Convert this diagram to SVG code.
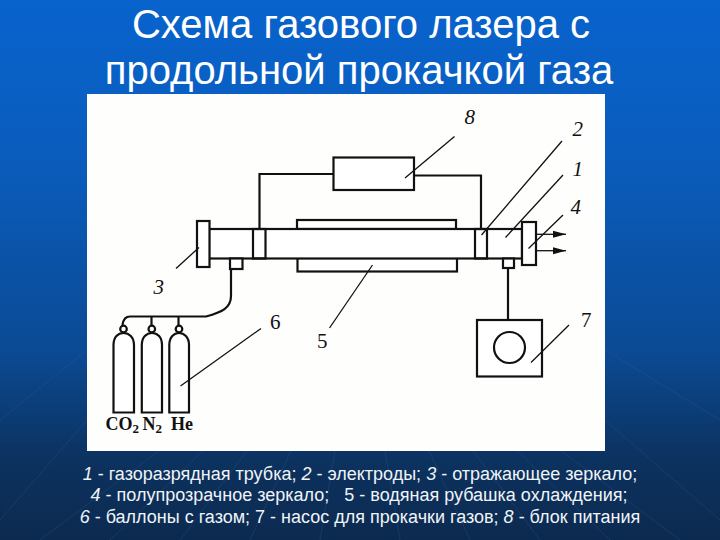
<svg xmlns="http://www.w3.org/2000/svg" width="720" height="540" viewBox="0 0 720 540">
<style>
.t{font-family:"Liberation Sans",Arial,sans-serif;fill:#fff}
.title{font-size:40px;text-anchor:middle}
.cap{font-size:18px;text-anchor:middle;white-space:pre;fill:#f0f4f8}
.cap tspan{font-style:italic}
.s{fill:#fff;stroke:#111;stroke-width:2.2}
.w{fill:none;stroke:#111;stroke-width:2.2}
.l{fill:none;stroke:#111;stroke-width:1.3}
.n{font-family:"Liberation Serif","Times New Roman",serif;font-size:21px;font-style:italic;fill:#111}
.u{font-style:normal}
.g{font-family:"Liberation Serif","Times New Roman",serif;font-size:18px;font-weight:bold;fill:#111}
.g2{font-size:13px}
.ray{stroke:#3f6fa8;stroke-width:1;opacity:.22;fill:none}
</style>
<defs>
<linearGradient id="bg" x1="0" y1="0" x2="0" y2="1">
<stop offset="0" stop-color="#0863cd"/>
<stop offset=".3" stop-color="#0a5cbc"/>
<stop offset=".65" stop-color="#0b4a94"/>
<stop offset=".85" stop-color="#0c325f"/>
<stop offset="1" stop-color="#0c2a50"/>
</linearGradient>
<marker id="ah" markerWidth="14" markerHeight="8" refX="13" refY="4" orient="auto" markerUnits="userSpaceOnUse"><path d="M0 0.5L13 4L0 7.5Z" fill="#111"/></marker>
</defs>
<rect width="720" height="540" fill="url(#bg)"/>
<g id="background-rays">
<path class="ray" d="M360 300L40 540M360 300L110 540M360 300L180 540M360 300L250 540M360 300L320 540M360 300L400 540M360 300L470 540M360 300L540 540M360 300L610 540M360 300L680 540M87 350L0 420M605 350L720 420M605 420L720 520M87 420L0 520"/>
</g>
<g id="title">
<text class="t title" x="361" y="38">Схема газового лазера с</text>
<text class="t title" x="359" y="84">продольной прокачкой газа</text>
</g>
<rect id="panel" x="87" y="94" width="518" height="357" fill="#fefefc"/>
<g id="node-5-jacket">
<rect class="s" x="297" y="220" width="159" height="9"/>
<rect class="s" x="297.500" y="258" width="159.500" height="13.500"/>
</g>
<g id="node-1-tube">
<rect class="s" x="209" y="229" width="313" height="29.500"/>
</g>
<g id="node-2-electrodes">
<rect class="w" x="253" y="229" width="12.500" height="29.500"/>
<rect class="w" x="475" y="229" width="12" height="29.500"/>
</g>
<g id="node-3-mirror"><rect class="s" x="197" y="221" width="12.500" height="46"/></g>
<g id="node-4-mirror"><rect class="s" x="522" y="222" width="14" height="43"/></g>
<g id="port-left"><rect class="s" x="230" y="258.500" width="12.500" height="10.500"/></g>
<g id="port-right"><rect class="s" x="503" y="258.500" width="11" height="9.500"/></g>
<g id="node-8-power"><rect class="s" x="333.500" y="157.500" width="80.500" height="32.500"/></g>
<g id="node-7-pump">
<rect class="s" x="477" y="320" width="65" height="56.500"/>
<circle class="s" cx="509.500" cy="347.500" r="15.500"/>
</g>
<g id="node-6-cylinders">
<path class="s" d="M113.500 412.500V345C113.500 337 118 333 123.500 333S134 337 134 345V412.500Z"/>
<path class="s" d="M141.800 412.500V345C141.800 337 146.500 333 152 333S162 337 162 345V412.500Z"/>
<path class="s" d="M169.300 412.500V345C169.300 337 174 333 179 333S189 337 189 345V412.500Z"/>
<circle class="s" cx="123.500" cy="329" r="3.300"/>
<circle class="s" cx="151.800" cy="329" r="3.300"/>
<circle class="s" cx="179" cy="329" r="3.300"/>
<text class="g" x="105.500" y="430">CO<tspan class="g2" dy="3">2</tspan></text>
<text class="g" x="142.500" y="430">N<tspan class="g2" dy="3">2</tspan></text>
<text class="g" x="171" y="430">He</text>
</g>
<g id="connectors">
<path class="w" d="M333.500 174H259.500V229"/>
<path class="w" d="M414 175.500H481V229"/>
<path class="w" d="M508 268V320"/>
<path class="w" d="M231 269V296C231 308 222 312 206 316.500H130C125 316.500 123 321 122.500 325"/>
<path class="w" d="M151.500 316.500V325M178.500 316.500V325"/>
<path class="l" d="M537 234.300H566" marker-end="url(#ah)"/>
<path class="l" d="M537 250.700H566" marker-end="url(#ah)"/>
<path class="l" d="M176 268.500L199 247.500"/>
<path class="l" d="M454.500 136.500L405 178"/>
<path class="l" d="M562 141L481.500 235"/>
<path class="l" d="M563 175L505.500 237.500"/>
<path class="l" d="M563 215L528.500 248.500"/>
<path class="l" d="M372.500 265L329.500 328"/>
<path class="l" d="M261 328.500L180.500 386"/>
<path class="l" d="M569 325L531 362.500"/>
</g>
<g id="labels">
<text class="n" x="464.500" y="124">8</text>
<text class="n" x="572.500" y="135.500">2</text>
<text class="n" x="572.500" y="176">1</text>
<text class="n" x="570.500" y="214">4</text>
<text class="n" x="153.500" y="294">3</text>
<text class="n u" x="270" y="329">6</text>
<text class="n u" x="317" y="348">5</text>
<text class="n u" x="581" y="327">7</text>
</g>
<g id="caption">
<text class="t cap" x="360" y="480"><tspan>1</tspan> - газоразрядная трубка; <tspan>2</tspan> - электроды; <tspan>3</tspan> - отражающее зеркало;</text>
<text class="t cap" x="359" y="501"><tspan>4</tspan> - полупрозрачное зеркало;   5 - водяная рубашка охлаждения;</text>
<text class="t cap" x="360" y="523"><tspan>6</tspan> - баллоны с газом; 7 - насос для прокачки газов; <tspan>8</tspan> - блок питания</text>
</g>
</svg>
